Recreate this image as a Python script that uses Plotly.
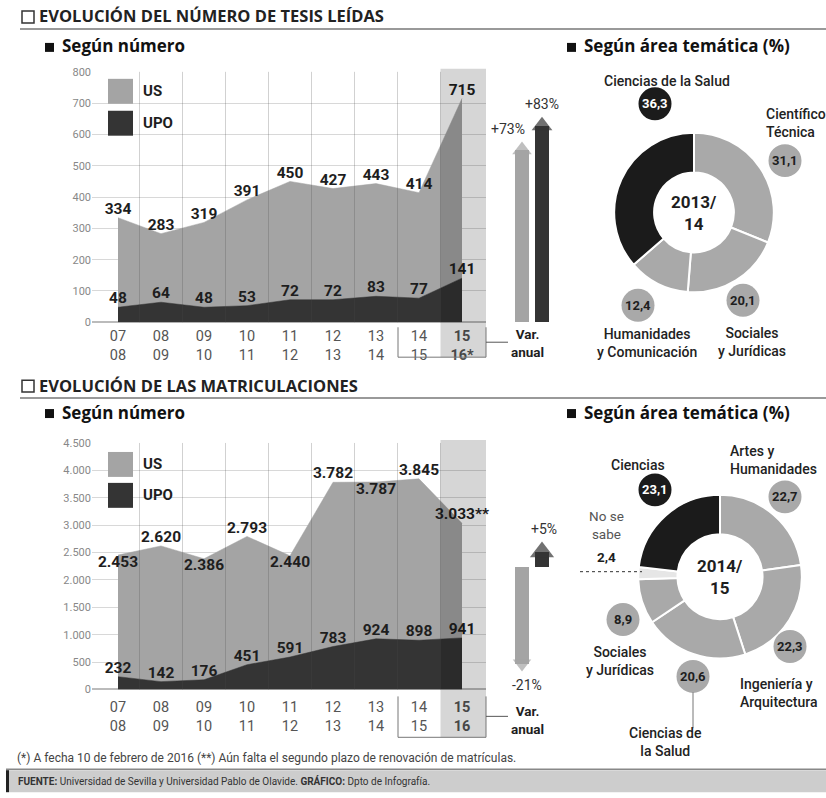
import plotly.graph_objects as go

W, H = 826, 798
FONT = "Roboto"
TFONT = "Open Sans"

# ---------------- data ----------------
seasons = ["07/08", "08/09", "09/10", "10/11", "11/12", "12/13", "13/14", "14/15", "15/16"]
tesis_us = [334, 283, 319, 391, 450, 427, 443, 414, 715]
tesis_upo = [48, 64, 48, 53, 72, 72, 83, 77, 141]
matric_us = [2453, 2620, 2386, 2793, 2440, 3782, 3787, 3845, 3033]
matric_upo = [232, 142, 176, 451, 591, 783, 924, 898, 941]
var_tesis = [73, 83]      # US, UPO
var_matric = [-21, 5]     # US, UPO
tesis_area_labels = ["Científico Técnica", "Sociales y Jurídicas", "Humanidades y Comunicación", "Ciencias de la Salud"]
tesis_area_values = [31.1, 20.1, 12.4, 36.3]
matric_area_labels = ["Artes y Humanidades", "Ingeniería y Arquitectura", "Ciencias de la Salud",
                      "Sociales y Jurídicas", "No se sabe", "Ciencias"]
matric_area_values = [22.7, 22.3, 20.6, 8.9, 2.4, 23.1]

# ---------------- styles ----------------
C_US = "#a4a4a4"
C_UPO = "#343434"
C_BLACK = "#1b1b1b"
C_SLICE = "#a9a9a9"
C_GRID = "#d8d8d8"
C_TXT = "#1e1e1e"

# vertical calibration of the capture (page y -> picture y = Y_OFF + Y_SCALE * page y)
Y_OFF, Y_SCALE = 5.0, 0.986


def px(x):
    return x / W


def ypage(y):
    return (y - Y_OFF) / Y_SCALE


def py(y):
    return 1 - ypage(y) / H


def fmt_int(v):
    return f"{v:,}".replace(",", ".")


def fmt_dec(v):
    return f"{v:.1f}".replace(".", ",")


def ticktext(suffix):
    out = []
    for i, s in enumerate(seasons):
        a, b = s.split("/")
        if i == len(seasons) - 1:
            out.append(f"<b>{a}</b><br><b>{b}{suffix}</b>")
        else:
            out.append(f"{a}<br>{b}")
    return out


fig = go.Figure()
xs = list(range(len(seasons)))
shapes = []
annotations = []


def note(text, x, y, size=12, color=C_TXT, bold=False, xanchor="center", yanchor="middle",
         align="center", family=FONT, weight="normal"):
    annotations.append(dict(
        text=f"<b>{text}</b>" if bold else text, x=px(x), y=py(y), xref="paper", yref="paper",
        showarrow=False, font=dict(family=family, size=size, color=color, weight=weight),
        xanchor=xanchor, yanchor=yanchor, align=align))


def area_chart(us, upo, xa, ya, us_pos, us_suffix):
    for vals, color in [(us, C_US), (upo, C_UPO)]:
        fig.add_trace(go.Scatter(x=xs, y=vals, mode="lines", fill="tozeroy", fillcolor=color,
                                 line=dict(color=color, width=0.5), hoverinfo="skip",
                                 showlegend=False, xaxis=xa, yaxis=ya))
    us_txt = [fmt_int(v) for v in us]
    us_txt[-1] += us_suffix
    fig.add_trace(go.Scatter(x=xs, y=us, mode="text", text=us_txt, textposition=us_pos,
                             textfont=dict(family=FONT, size=15.5, color=C_TXT, weight="bold"),
                             hoverinfo="skip", showlegend=False, xaxis=xa, yaxis=ya, cliponaxis=False))
    fig.add_trace(go.Scatter(x=xs, y=upo, mode="text", text=[fmt_int(v) for v in upo],
                             textposition="top center",
                             textfont=dict(family=FONT, size=15.5, color=C_TXT, weight="bold"),
                             hoverinfo="skip", showlegend=False, xaxis=xa, yaxis=ya, cliponaxis=False))


area_chart(tesis_us, tesis_upo, "x", "y", "top center", "")
area_chart(matric_us, matric_upo, "x2", "y2",
           ["bottom center", "top center", "bottom center", "top center", "bottom center",
            "top center", "bottom center", "top center", "top center"], "**")

TOP0, TOP800 = 322, 71       # picture y of 0 and 800 in the upper chart
BOT0, BOT4500 = 690, 443     # picture y of 0 and 4500 in the lower chart
ARROW_BASE = 567             # picture y of the 0 % line of the lower arrows


def arrows(vals, xa, ya, pxu, sizes, shifts):
    colors = [C_US, C_UPO]
    heads = [v - (1 if v > 0 else -1) * (s / 2) / pxu for v, s in zip(vals, sizes)]
    fig.add_trace(go.Bar(x=[0, 1], y=heads, width=0.68, marker=dict(color=colors, line_width=0),
                         hoverinfo="skip", showlegend=False, xaxis=xa, yaxis=ya))
    fig.add_trace(go.Scatter(x=[0, 1], y=heads, mode="markers",
                             marker=dict(symbol=["triangle-up" if v > 0 else "triangle-down" for v in vals],
                                         size=sizes, color=colors, line_width=0),
                             hoverinfo="skip", showlegend=False, xaxis=xa, yaxis=ya, cliponaxis=False))
    for i, v in enumerate(vals):
        annotations.append(dict(text=f"{v:+d}%", x=i, y=v, xref=xa, yref=ya, showarrow=False,
                                xshift=shifts[i], yshift=13 if v > 0 else -14,
                                font=dict(family=FONT, size=14, color="#333")))


# pixel-per-% in page space
TOP_PXU = 2.48 / Y_SCALE
BOT_PXU = 5.0 / Y_SCALE
arrows(var_tesis, "x3", "y3", TOP_PXU, [17, 18], [-14, 0])
arrows(var_matric, "x4", "y4", BOT_PXU, [16, 21], [5, 2])

# ---------------- donuts ----------------
def donut(labels, values, colors, cx, cy, r, hole, center_text, bubbles, bubble_r):
    fig.add_trace(go.Pie(labels=labels, values=values, sort=False, direction="clockwise", hole=hole,
                         marker=dict(colors=colors, line=dict(color="white", width=2)),
                         textinfo="none", hoverinfo="skip", showlegend=False,
                         domain=dict(x=[px(cx - r), px(cx + r)], y=[py(cy + r), py(cy - r)])))
    note(center_text, cx, cy, size=17, bold=True)
    for v, c, b in zip(values, colors, bubbles):
        if b is None:
            continue
        bx, by = b
        shapes.append(dict(type="circle", xref="paper", yref="paper",
                           x0=px(bx - bubble_r), x1=px(bx + bubble_r),
                           y0=py(by + bubble_r), y1=py(by - bubble_r),
                           fillcolor=c, line=dict(width=0), layer="above"))
        note(fmt_dec(v), bx, by, size=13, bold=True,
             color="white" if c == C_BLACK else C_TXT)


donut(tesis_area_labels, tesis_area_values, [C_SLICE, C_SLICE, C_SLICE, C_BLACK],
      694, 212, 80, 0.5, "2013/<br>14",
      [(785, 160), (743, 300), (638, 305), (655, 103)], 16.5)
donut(matric_area_labels, matric_area_values, [C_SLICE, C_SLICE, C_SLICE, C_SLICE, "#e6e6e6", C_BLACK],
      720, 577, 82, 0.52, "2014/<br>15",
      [(785, 497), (790, 647), (693, 677), (623, 620), None, (655, 490)], 16.5)

# donut labels
LBL = dict(size=14, weight=500, color="#222")
note("Ciencias de la Salud", 667, 80, **LBL)
note("Científico<br>Técnica", 764, 122, xanchor="left", align="left", **LBL)
note("Humanidades<br>y Comunicación", 647, 343, **LBL)
note("Sociales<br>y Jurídicas", 752, 342, **LBL)
note("Ciencias", 638, 465, **LBL)
note("Artes y<br>Humanidades", 728, 460, xanchor="left", align="left", **LBL)
note("No se<br>sabe", 606, 525, size=13.5, color="#555")
note("2,4", 606, 557, size=13.5, bold=True)
note("Sociales<br>y Jurídicas", 620, 662, **LBL)
note("Ingeniería y<br>Arquitectura", 738, 694, xanchor="left", align="left", **LBL)
note("Ciencias de<br>la Salud", 665, 743, **LBL)
shapes.append(dict(type="line", xref="paper", yref="paper", x0=px(693), x1=px(693), y0=py(693), y1=py(729),
                   line=dict(color="#777", width=1)))
shapes.append(dict(type="line", xref="paper", yref="paper", x0=px(580), x1=px(642), y0=py(572), y1=py(572),
                   line=dict(color="#333", width=1, dash="dot")))

# ---------------- chart decorations ----------------
for xa, top, bottom, gbottom in [("x", 68, 357, TOP0), ("x2", 440, 738, BOT0)]:
    for i in range(len(seasons) - 1):
        shapes.append(dict(type="line", xref=xa, yref="paper", x0=i + 0.5, x1=i + 0.5,
                           y0=py(gbottom), y1=py(top + 3),
                           line=dict(color="rgba(70,70,70,0.25)", width=1), layer="above"))
    shapes.append(dict(type="rect", xref=xa, yref="paper", x0=len(seasons) - 1.5, x1=8.558,
                       y0=py(bottom), y1=py(top), fillcolor="rgba(0,0,0,0.16)",
                       line=dict(width=0), layer="above"))

# boxes around last two seasons
for top, bottom, ly in [(327, 357, 342), (697, 738, 717)]:
    shapes.append(dict(type="path", xref="paper", yref="paper",
                       path=f"M {px(398)},{py(top)} L {px(398)},{py(bottom)} L {px(486)},{py(bottom)} L {px(486)},{py(top)}",
                       line=dict(color="#777", width=1)))
    shapes.append(dict(type="line", xref="paper", yref="paper", x0=px(486), x1=px(508), y0=py(ly), y1=py(ly),
                       line=dict(color="#555", width=1)))

note("Var.<br>anual", 527, 343, size=13.5, bold=True)
note("Var.<br>anual", 527, 721, size=13.5, bold=True)

# legends
for (y0, y1, c, t) in [(78, 103, C_US, "US"), (110, 135, C_UPO, "UPO"),
                       (452, 477, C_US, "US"), (483, 508, C_UPO, "UPO")]:
    shapes.append(dict(type="rect", xref="paper", yref="paper", x0=px(108), x1=px(133),
                       y0=py(y1), y1=py(y0), fillcolor=c, line=dict(width=0), layer="above"))
    note(t, 141, (y0 + y1) / 2, size=15, bold=True, xanchor="left")

# section titles
for y, text in [(16, "EVOLUCIÓN DEL NÚMERO DE TESIS LEÍDAS"), (386, "EVOLUCIÓN DE LAS MATRICULACIONES")]:
    shapes.append(dict(type="rect", xref="paper", yref="paper", x0=px(22), x1=px(34),
                       y0=py(y + 6), y1=py(y - 6), line=dict(color="#333", width=1.5)))
    note(text, 37, y - 1, size=16.5, bold=True, xanchor="left", color="#222", family=TFONT)
    shapes.append(dict(type="line", xref="paper", yref="paper", x0=px(20), x1=1, y0=py(y + 12), y1=py(y + 12),
                       line=dict(color="#999", width=2)))

for x, y, text in [(45, 46, "Según número"), (567, 46, "Según área temática (%)"),
                   (45, 413, "Según número"), (567, 413, "Según área temática (%)")]:
    shapes.append(dict(type="rect", xref="paper", yref="paper", x0=px(x), x1=px(x + 9),
                       y0=py(y + 5), y1=py(y - 4), fillcolor="#111", line=dict(width=0)))
    note(text, x + 15, y - 1, size=17, bold=True, xanchor="left", color="#111", family=TFONT)

# footnote and footer
note("(*) A fecha 10 de febrero de 2016 (**) Aún falta el segundo plazo de renovación de matrículas.",
     15, 759, size=12, color="#444", xanchor="left")
shapes.append(dict(type="rect", xref="paper", yref="paper", x0=px(6), x1=1, y0=py(793), y1=py(771),
                   fillcolor="#cdcdcd", line=dict(width=0)))
shapes.append(dict(type="line", xref="paper", yref="paper", x0=px(6), x1=1, y0=py(770), y1=py(770),
                   line=dict(color="#888", width=1.5)))
shapes.append(dict(type="rect", xref="paper", yref="paper", x0=px(6), x1=px(9), y0=py(793), y1=py(771),
                   fillcolor="#222", line=dict(width=0)))
note("<b>FUENTE:</b> Universidad de Sevilla y Universidad Pablo de Olavide. <b>GRÁFICO:</b> Dpto de Infografía.",
     16, 782, size=10, color="#333", xanchor="left")

# ---------------- layout ----------------
XDOM = [px(92), px(486)]
XRANGE = [-0.605, 8.558]
common_x = dict(domain=XDOM, range=XRANGE, tickvals=xs, showgrid=False, zeroline=False, showline=False,
                ticks="", tickfont=dict(family=FONT, size=14.5, color="#555"), fixedrange=True)
common_y = dict(gridcolor=C_GRID, zeroline=True, zerolinecolor="#bbb", ticks="", showline=False,
                tickfont=dict(family=FONT, size=11, color="#888"), fixedrange=True)

top_span = ypage(TOP0) - ypage(TOP800)
fig.update_layout(
    width=W, height=H, margin=dict(l=0, r=0, t=0, b=0),
    paper_bgcolor="white", plot_bgcolor="rgba(0,0,0,0)",
    showlegend=False, bargap=0,
    xaxis=dict(**common_x, ticktext=ticktext("*"), anchor="y", ticklabelstandoff=3),
    yaxis=dict(**common_y, domain=[py(TOP0), py(TOP800)], range=[0, 800], dtick=100, anchor="x"),
    xaxis2=dict(**common_x, ticktext=ticktext(""), anchor="y2", ticklabelstandoff=7),
    yaxis2=dict(**common_y, domain=[py(BOT0), py(BOT4500)], range=[0, 4500],
                tickvals=list(range(0, 4501, 500)), ticktext=[fmt_int(v) for v in range(0, 4501, 500)],
                anchor="x2"),
    xaxis3=dict(domain=[px(502), px(562)], range=[-1, 2], visible=False, anchor="y3", fixedrange=True),
    yaxis3=dict(domain=[py(TOP0), py(TOP800)], range=[0, top_span / TOP_PXU], visible=False,
                anchor="x3", fixedrange=True),
    xaxis4=dict(domain=[px(502), px(562)], range=[-1, 2], visible=False, anchor="y4", fixedrange=True),
    yaxis4=dict(domain=[py(BOT0), py(BOT4500)],
                range=[-(ypage(BOT0) - ypage(ARROW_BASE)) / BOT_PXU, (ypage(ARROW_BASE) - ypage(BOT4500)) / BOT_PXU],
                visible=False, anchor="x4", fixedrange=True),
    shapes=shapes,
    annotations=annotations,
    font=dict(family=FONT),
)

fig.write_html("out.html", config={"displayModeBar": False},
               post_script="document.documentElement.style.margin='0';document.documentElement.style.overflow='hidden';"
                           "document.body.style.margin='0';document.body.style.padding='0';"
                           "document.body.style.overflow='hidden';")
